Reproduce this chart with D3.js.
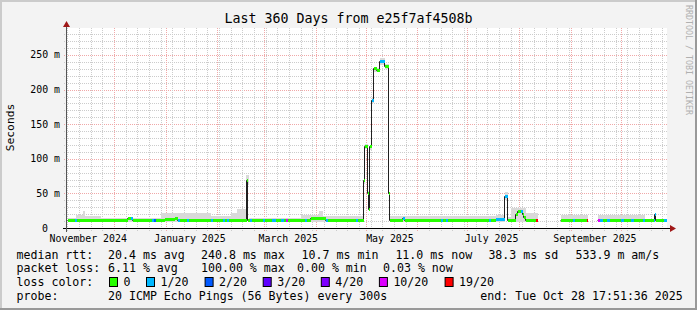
<!DOCTYPE html>
<html>
<head>
<meta charset="utf-8">
<script src="https://cdn.jsdelivr.net/npm/d3@7"></script>
<style>
  html, body { margin: 0; padding: 0; background: #f3f3f3; }
  svg { display: block; }
  text { font-family: "DejaVu Sans Mono", monospace; white-space: pre; }
</style>
</head>
<body>
<svg id="chart" width="697" height="310"></svg>
<script>
const endTime = Date.UTC(2025, 9, 28, 17, 51, 36);
const spanDays = 360;

// median rtt as steps: day offset from start, value in ms (null = no data), loss bucket
const medianDays = [0, 4.2, 5.4, 36, 37.8, 39, 50.4, 51.6, 52.8, 58.2, 64.2, 66, 67.2, 71.4, 72.6,
  85.8, 87, 93, 94.2, 95.4, 96.6, 107.4, 108, 109.2, 110.4, 117, 118.2, 122.4, 124.8, 127.8, 129.6,
  130.8, 132, 142.2, 143.4, 145.8, 154.8, 156, 172.8, 174,
  177.8, 178.4, 179.8, 180.4, 181.2, 182.4, 183.4, 185.4, 187.2, 190.2, 192.4, 193.4,
  200.7, 202.2, 223.8, 225, 226.8, 228, 252.6, 253.8, 256.8, 262.5, 263.7, 268.8, 270.2, 271.8,
  272.8, 273.6, 274.5, 280.8, 282, 295.8, 303, 304.2, 311.1, 312.2, 318, 319.2, 321, 323.4, 325.2,
  331.8, 333.6, 337.8, 339.6, 345, 345.9, 351.6, 352.2, 352.8, 357.6, 359.4];
const medianMs = [12, 12, 12, 14, 14, 12, 12, 12, 12, 13, 15, 12, 12, 12, 12,
  12, 12, 12, 12, 12, 12, 70, 12, 12, 12, 12, 12, 12, 12, 12, 12,
  12, 12, 12, 12, 14, 12, 12, 12, 12,
  70, 119, 50, 27, 118, 185, 231, 229, 241, 234, 50, 12,
  14, 12, 12, 12, 12, 12, 12, 12, 13, 46, 12, 20, 24, 24,
  20, 16, 12, 12, null, 12, 12, 12, 12, null, 12, 12, 12, 12, 12,
  12, 12, 12, 12, 12, 11, 11, 20, 11, 11, null];
const medianLoss = [0, 1, 0, 0, 1, 0, 1, 2, 0, 0, 0, 1, 0, 1, 0,
  1, 0, 1, 0, 1, 0, 0, 0, 1, 0, 1, 0, 1, 0, 1, 0,
  5, 0, 1, 0, 0, 1, 0, 1, 0,
  0, 0, 0, 0, 0, 1, 0, 0, 1, 0, 0, 0,
  1, 0, 1, 0, 1, 0, 1, 0, 1, 1, 0, 0, 0, 1,
  0, 0, 0, 6, 0, 0, 1, 0, 6, 0, 5, 1, 0, 1, 0,
  1, 0, 1, 0, 1, 0, 1, 1, 0, 1, 0];

// smoke (spread of pings): day offset, lower and upper edge in ms
const smokeDays = [0, 4.8, 9, 10.2, 19.8, 55.8, 85.8, 97.8, 101.4, 106.8, 108.6, 139.8, 150.6, 153, 157.8,
  177.8, 178.4, 179.8, 180.4, 181.2, 182.4, 183.4, 185.4, 187.2, 190.2, 192.4, 193.4,
  229.8, 256.8, 262.5, 263.7, 265.8, 274.8, 282, 295.8, 312.2, 318, 345.9, 359.4];
const smokeLowMs = [9, 9, 9, 9, 9, 9, 9, 9, 9, 62, 9, 9, 9, 9, 9,
  64, 114, 46, 24, 113, 181, 226, 225, 236, 230, 45, 9,
  9, 9, 40, 9, 9, 9, null, 9, null, 9, 9, null];
const smokeHighMs = [15, 18.5, 24, 18, 15, 21, 17, 22, 27, 76, 15, 19, 25, 18, 17,
  72, 121, 53, 30, 120, 188, 233, 231, 245, 237, 52, 18,
  17, 19, 52, 16, 29, 21, null, 19.5, null, 18.5, 13, null];

const lossColors = ["#26ff00", "#00b8ff", "#0059ff", "#5e00ff", "#7e00ff", "#dd00ff", "#ff0000"];
const lossLabels = ["0", "1/20", "2/20", "3/20", "4/20", "10/20", "19/20"];

const yMajor = [0, 50, 100, 150, 200, 250];
const yLabels = ["0", "50 m", "100 m", "150 m", "200 m", "250 m"];

const titleText = "Last 360 Days from e25f7af4508b";
const rttRow = ["median rtt:", "20.4 ms avg", "240.8 ms max", "10.7 ms min", "11.0 ms now", "38.3 ms sd", "533.9 m am/s"];
const lossRow = ["packet loss:", "6.11 % avg", "100.00 % max", "0.00 % min", "0.03 % now"];
const probeRow = ["probe:", "20 ICMP Echo Pings (56 Bytes) every 300s", "end: Tue Oct 28 17:51:36 2025"];

const W = 697, H = 310;
const svg = d3.select("#chart");
const startTime = endTime - spanDays * 864e5;

const x = d3.scaleUtc()
  .domain([new Date(startTime), new Date(endTime)])
  .range([67, 667]);
const y = d3.scaleLinear().domain([0, 289]).range([228, 28]);
const dayX = d => x(new Date(startTime + d * 864e5));
const px = v => Math.round(v) + 0.5;

// canvas and frame
svg.append("rect").attr("width", W).attr("height", H).attr("fill", "#f3f3f3");
svg.append("rect").attr("x", 0).attr("y", 0).attr("width", W).attr("height", 2).attr("fill", "#cbcbcb");
svg.append("rect").attr("x", 0).attr("y", 0).attr("width", 2).attr("height", H).attr("fill", "#cbcbcb");
svg.append("rect").attr("x", 0).attr("y", H - 2).attr("width", W).attr("height", 2).attr("fill", "#999999");
svg.append("rect").attr("x", W - 2).attr("y", 0).attr("width", 2).attr("height", H).attr("fill", "#999999");

svg.append("rect").attr("x", 67).attr("y", 28).attr("width", 600).attr("height", 200).attr("fill", "#ffffff");

// grid
const grid = svg.append("g").attr("fill", "none").attr("stroke-dasharray", "1,1").attr("shape-rendering", "crispEdges");
const minorY = d3.range(10, 290, 10).filter(v => v % 50 !== 0);
grid.selectAll(".hmin").data(minorY).enter().append("line")
  .attr("x1", 64).attr("x2", 668)
  .attr("y1", d => px(y(d))).attr("y2", d => px(y(d)))
  .attr("stroke", "#cccccc");
grid.selectAll(".hmaj").data(yMajor.slice(1)).enter().append("line")
  .attr("x1", 64).attr("x2", 668)
  .attr("y1", d => px(y(d))).attr("y2", d => px(y(d)))
  .attr("stroke", "#f0a8a8");

const months = d3.utcMonth.range(new Date(startTime), new Date(endTime));
const weeks = d3.utcSunday.range(new Date(startTime), new Date(endTime))
  .filter(w => !months.some(m => Math.abs(x(m) - x(w)) < 1.5));
grid.selectAll(".vmin").data(weeks).enter().append("line")
  .attr("x1", d => px(x(d))).attr("x2", d => px(x(d)))
  .attr("y1", 28).attr("y2", 232)
  .attr("stroke", "#cccccc");
grid.selectAll(".vmaj").data(months).enter().append("line")
  .attr("x1", d => px(x(d))).attr("x2", d => px(x(d)))
  .attr("y1", 28).attr("y2", 232)
  .attr("stroke", "#f0a8a8");

// smoke
const smoke = svg.append("g").attr("shape-rendering", "crispEdges");
smokeDays.forEach((d, i) => {
  if (i === smokeDays.length - 1 || smokeHighMs[i] == null) return;
  const x0 = Math.round(dayX(d)), x1 = Math.round(dayX(smokeDays[i + 1]));
  const top = Math.round(y(smokeHighMs[i])), bot = Math.round(y(smokeLowMs[i]));
  smoke.append("rect")
    .attr("x", x0 + 1).attr("width", Math.max(1, x1 - x0))
    .attr("y", top).attr("height", bot - top)
    .attr("fill", "#d9d9d9");
});

// median line (dark step line)
let path = "";
let open = false;
medianDays.forEach((d, i) => {
  if (i === medianDays.length - 1) return;
  const v = medianMs[i];
  if (v == null) { open = false; return; }
  const x0 = Math.round(dayX(d)) + 0.5, x1 = Math.round(dayX(medianDays[i + 1])) + 0.5;
  const yy = Math.round(y(v)) + 0.5;
  path += (open ? "V" + yy : "M" + x0 + "," + yy) + "H" + x1;
  open = true;
});
svg.append("path").attr("d", path).attr("fill", "none").attr("stroke", "#202020").attr("stroke-width", 1);

// median coloured by loss
const med = svg.append("g").attr("shape-rendering", "crispEdges");
medianDays.forEach((d, i) => {
  if (i === medianDays.length - 1 || medianMs[i] == null) return;
  const x0 = Math.round(dayX(d)), x1 = Math.round(dayX(medianDays[i + 1]));
  med.append("rect")
    .attr("x", x0 + 1).attr("width", Math.max(1, x1 - x0))
    .attr("y", Math.round(y(medianMs[i])) - 1).attr("height", 3)
    .attr("fill", lossColors[medianLoss[i]]);
});

// axes
const axes = svg.append("g").attr("shape-rendering", "crispEdges");
axes.append("line").attr("x1", 63).attr("x2", 670).attr("y1", 228.5).attr("y2", 228.5).attr("stroke", "#000");
axes.append("line").attr("x1", 66.5).attr("x2", 66.5).attr("y1", 232).attr("y2", 26).attr("stroke", "#555");
svg.append("path").attr("d", "M670,225L676,228.5L670,232Z").attr("fill", "#a01818");
svg.append("path").attr("d", "M63,27L66.5,21L70,27Z").attr("fill", "#a01818");

// y labels
svg.selectAll(".ylab").data(yMajor).enter().append("text")
  .attr("x", (d, i) => i === 0 ? 48 : 60)
  .attr("y", d => y(d) + 3.5)
  .attr("text-anchor", "end")
  .attr("font-size", "9.9px").attr("fill", "#000")
  .text((d, i) => yLabels[i]);

// x labels, every second month centred mid-month
const labelMonths = d3.utcMonth.every(2).range(d3.utcMonth.floor(new Date(startTime)), new Date(endTime));
const fmt = d3.utcFormat("%B %Y");
svg.selectAll(".xlab").data(labelMonths).enter().append("text")
  .attr("x", d => x(new Date(+d + 14.5 * 864e5)))
  .attr("y", 241.5)
  .attr("text-anchor", "middle")
  .attr("font-size", "9.9px").attr("fill", "#000")
  .text(d => fmt(d));

// title, unit, watermark
svg.append("text").attr("x", 348.5).attr("y", 23).attr("text-anchor", "middle")
  .attr("font-size", "13.3px").attr("fill", "#000").text(titleText);
svg.append("text").attr("transform", "translate(14,127.5) rotate(-90)").attr("text-anchor", "middle")
  .attr("font-size", "11.3px").attr("fill", "#000").text("Seconds");
svg.append("text").attr("transform", "translate(686,5) rotate(90)").attr("text-anchor", "start")
  .attr("font-size", "8.3px").attr("fill", "#b0b0b0").text("RRDTOOL / TOBI OETIKER");

// legend
const legend = svg.append("g").attr("font-size", "11.6px").attr("fill", "#000");
const rttX = [16.5, 108, 201, 301.6, 395.4, 488.4, 575.5];
rttRow.forEach((t, i) => legend.append("text").attr("x", rttX[i]).attr("y", 258.5).text(t));
const lossX = [16.5, 108, 201, 297, 383];
lossRow.forEach((t, i) => legend.append("text").attr("x", lossX[i]).attr("y", 272).text(t));
legend.append("text").attr("x", 16.5).attr("y", 286).text("loss color:");
const boxX = [109, 146, 204.6, 262.7, 320.8, 378.9, 444.6];
lossLabels.forEach((t, i) => {
  legend.append("rect").attr("x", boxX[i] + 0.5).attr("y", 277.5).attr("width", 8).attr("height", 9)
    .attr("fill", lossColors[i]).attr("stroke", "#000").attr("stroke-width", 1);
  legend.append("text").attr("x", boxX[i] + 14.5).attr("y", 286).text(t);
});
const probeX = [16.5, 108, 480.3];
probeRow.forEach((t, i) => legend.append("text").attr("x", probeX[i]).attr("y", 300).text(t));
</script>
</body>
</html>
